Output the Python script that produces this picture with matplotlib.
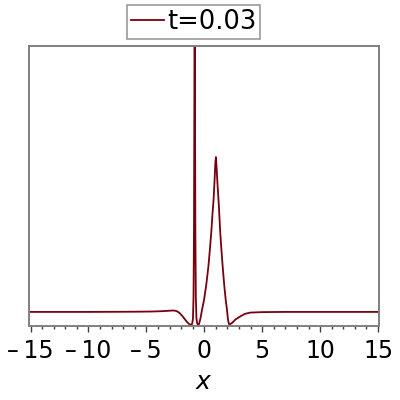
import numpy as np
import matplotlib
matplotlib.use('Agg')
import matplotlib.pyplot as plt

# values (y in arbitrary units, baseline = 0)
xs = [-15.0, -10.0, -6.0, -4.5, -3.5, -3.0, -2.7, -2.5, -2.3, -2.1, -1.9, -1.7,
      -1.5, -1.3, -1.15, -1.05, -0.98, -0.93, -0.89, -0.86, -0.83, -0.80, -0.77,
      -0.73, -0.68, -0.62, -0.55, -0.45, -0.32, -0.20, -0.02, 0.18, 0.35, 0.48,
      0.60, 0.72, 0.80, 0.88, 0.95, 1.00, 1.06, 1.14, 1.25, 1.38, 1.48, 1.59,
      1.72, 1.85, 1.95, 2.04, 2.12, 2.22, 2.40, 2.70, 3.08, 3.50, 3.95, 5.0, 7.0, 15.0]
ys = [0.0, 0.0, 0.002, 0.004, 0.008, 0.012, 0.014, 0.012, 0.003, -0.015, -0.04, -0.07,
      -0.10, -0.122, -0.13, -0.12, -0.07, 0.15, 0.8, 2.0, 3.5, 2.0, 0.8,
      0.15, -0.06, -0.11, -0.13, -0.12, -0.06, 0.02, 0.12, 0.28, 0.45, 0.62,
      0.79, 1.00, 1.12, 1.30, 1.48, 1.55, 1.45, 1.28, 1.08, 0.79, 0.62, 0.45,
      0.27, 0.12, 0.03, -0.07, -0.12, -0.123, -0.11, -0.075, -0.047, -0.02, -0.007, -0.002, 0.0, 0.0]
label = 't=0.03'
xticks = [-15, -10, -5, 0, 5, 10, 15]
xtick_labels = ['\u2013\u200915', '\u2013\u200910', '\u2013\u20095', '0', '5', '10', '15']

plt.rcParams['font.family'] = ['DejaVu Sans']

fig = plt.figure(figsize=(4, 4), dpi=100)
ax = fig.add_axes([0.072, 0.184, 0.876, 0.702])

ax.plot(xs, ys, color='#78000E', lw=1.3, label=label)

ax.set_xlim(-15.15, 15.1)
ax.set_ylim(-0.145, 2.665)

ax.set_xticks(xticks)
ax.set_xticklabels(xtick_labels, fontsize=17)
ax.set_xticks(np.arange(-15, 16, 1), minor=True)
ax.set_yticks([])
ax.tick_params(axis='x', which='major', direction='out', length=4, width=1, color='#404040', pad=5)
ax.tick_params(axis='x', which='minor', direction='out', length=2.5, width=1, color='#404040')

for s in ax.spines.values():
    s.set_color('#808080')
    s.set_linewidth(1.4)

ax.set_xlabel('$x$', fontsize=18, labelpad=5)

leg = ax.legend(loc='upper center', bbox_to_anchor=(0.4838, 0.988), bbox_transform=fig.transFigure,
                fontsize=18.5, frameon=True, fancybox=False, handlelength=1.3,
                handletextpad=0.12, borderpad=0.15, borderaxespad=0)
leg.get_frame().set_edgecolor('#808080')
leg.get_frame().set_linewidth(1.2)

fig.savefig('out.png', dpi=100)
